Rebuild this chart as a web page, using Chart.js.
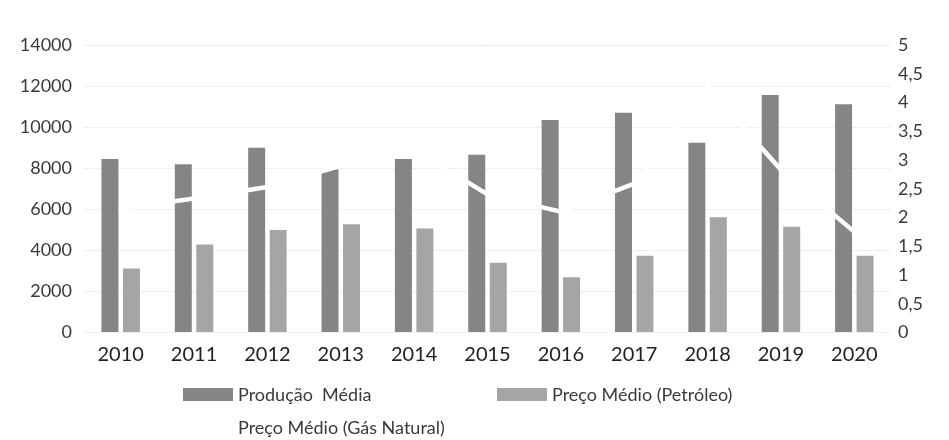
<!DOCTYPE html>
<html lang="pt">
<head>
<meta charset="utf-8">
<title>Produção e Preços</title>
<script src="https://cdn.jsdelivr.net/npm/chart.js@4/dist/chart.umd.min.js"></script>
<style>
  html, body { margin: 0; padding: 0; background: #ffffff; }
  #grafico { display: block; }
</style>
</head>
<body>
<canvas id="grafico" width="949" height="440"></canvas>
<script>
'use strict';

// ── Dados ─────────────────────────────────────────────────────────────────────

const anos = ['2010', '2011', '2012', '2013', '2014', '2015', '2016', '2017', '2018', '2019', '2020'];
const producaoMedia = [8450, 8190, 9000, 7950, 8450, 8650, 10350, 10700, 9240, 11560, 11120];
const precoPetroleo = [3120, 4290, 4990, 5270, 5070, 3400, 2690, 3740, 5610, 5150, 3740];
const precoGas      = [2.15, 2.33, 2.53, 2.9, 3.18, 2.4, 2.1, 2.59, 4.27, 2.83, 1.75];

const ticksEsq = [0, 2000, 4000, 6000, 8000, 10000, 12000, 14000];
const ticksDir = [0, 0.5, 1, 1.5, 2, 2.5, 3, 3.5, 4, 4.5, 5];

const FONTE = 'Lato, "Open Sans", sans-serif';
const corTexto = '#3a3a3a';

// ── Legenda desenhada à mão (duas linhas, alinhada à esquerda) ────────────────

const legendaPlugin = {
  id: 'legenda',
  afterDraw(chart) {
    const ctx = chart.ctx;
    const itens = [
      { ds: 0, x: 183, y: 395 },
      { ds: 1, x: 497, y: 395 },
      { ds: 2, x: 183, y: 428 },
    ];
    ctx.save();
    ctx.font = `18px ${FONTE}`;
    ctx.textBaseline = 'middle';
    ctx.textAlign = 'left';
    itens.forEach(it => {
      const d = chart.data.datasets[it.ds];
      if (d.type === 'line') {
        ctx.strokeStyle = d.borderColor;
        ctx.lineWidth = d.borderWidth;
        ctx.beginPath(); ctx.moveTo(it.x, it.y); ctx.lineTo(it.x + 50, it.y); ctx.stroke();
      } else {
        ctx.fillStyle = d.backgroundColor;
        ctx.fillRect(it.x, it.y - 7, 50, 13);
      }
      ctx.fillStyle = corTexto;
      ctx.fillText(d.label, it.x + 55, it.y);
    });
    ctx.restore();
  },
};

// ── Gráfico ───────────────────────────────────────────────────────────────────

new Chart(document.getElementById('grafico'), {
  data: {
    labels: anos,
    datasets: [
      {
        type: 'bar',
        label: 'Produção  Média',
        data: producaoMedia,
        backgroundColor: '#858585',
        yAxisID: 'y',
        categoryPercentage: 0.586,
        barPercentage: 0.79,
        order: 2,
      },
      {
        type: 'bar',
        label: 'Preço Médio (Petróleo)',
        data: precoPetroleo,
        backgroundColor: '#a5a5a5',
        yAxisID: 'y',
        categoryPercentage: 0.586,
        barPercentage: 0.79,
        order: 2,
      },
      {
        type: 'line',
        label: 'Preço Médio (Gás Natural)',
        data: precoGas,
        borderColor: '#ffffff',
        borderWidth: 4.5,
        borderCapStyle: 'round',
        pointRadius: 0,
        tension: 0,
        fill: false,
        yAxisID: 'y1',
        order: 0,
      },
    ],
  },
  options: {
    responsive: false,
    animation: false,
    layout: { padding: { top: 45, left: 0, right: 0, bottom: 0 } },
    plugins: {
      legend: { display: false },
      tooltip: { enabled: false },
    },
    scales: {
      x: {
        grid: { display: false, drawTicks: false },
        border: { display: false },
        ticks: { color: '#222222', font: { family: FONTE, size: 20 }, padding: 10, maxRotation: 0 },
        afterFit: s => { s.height = 107.5; },
      },
      y: {
        position: 'left',
        min: 0, max: 14000,
        afterBuildTicks: s => { s.ticks = ticksEsq.map(v => ({ value: v })); },
        grid: { color: '#efefef', lineWidth: 1, drawTicks: false },
        border: { display: false },
        ticks: {
          color: corTexto,
          font: { family: FONTE, size: 18 },
          padding: 12,
          callback: v => String(v),
        },
        afterFit: s => { s.width = 84; },
      },
      y1: {
        position: 'right',
        min: 0, max: 5,
        afterBuildTicks: s => { s.ticks = ticksDir.map(v => ({ value: v })); },
        grid: { display: false, drawTicks: false },
        border: { display: false },
        ticks: {
          color: corTexto,
          font: { family: FONTE, size: 18 },
          padding: 7,
          callback: v => String(v).replace('.', ','),
        },
        afterFit: s => { s.width = 58; },
      },
    },
  },
  plugins: [legendaPlugin],
});
</script>
</body>
</html>
